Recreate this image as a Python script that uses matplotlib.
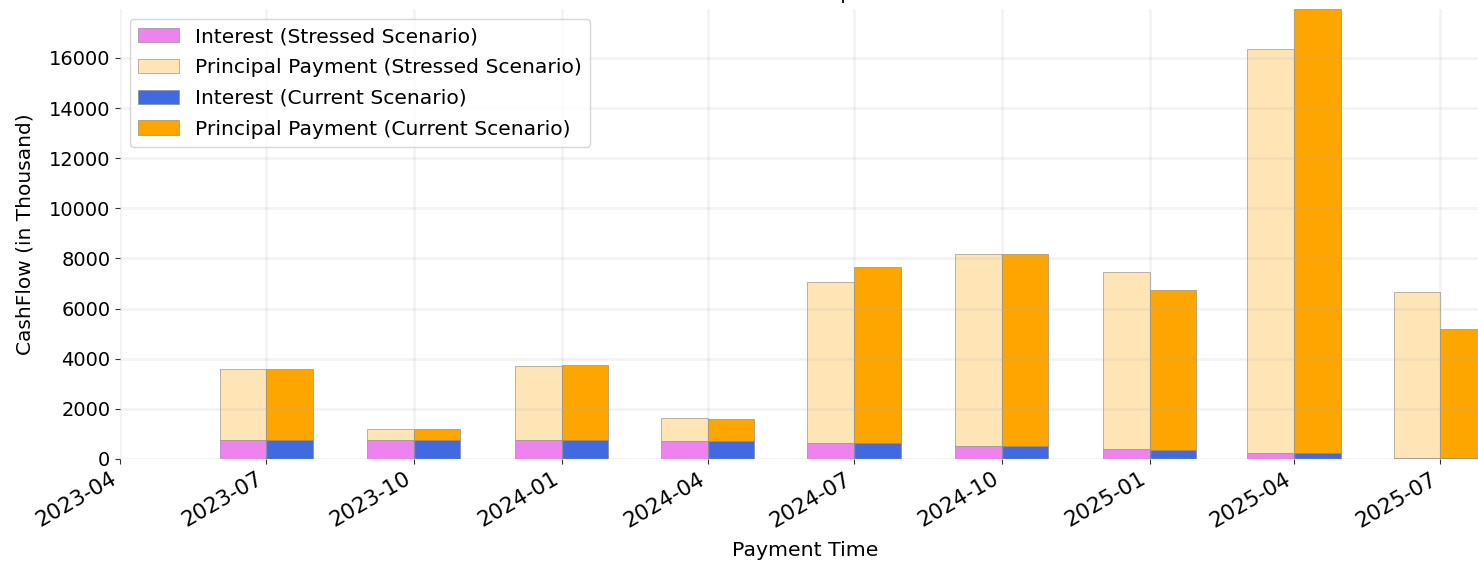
import matplotlib
matplotlib.use("Agg")
import matplotlib.pyplot as plt
import matplotlib.dates as mdates
import numpy as np
import pandas as pd

# ---- data (values in thousand) ----
pay_dates = ["2023-07-01", "2023-10-01", "2024-01-01", "2024-04-01", "2024-07-01",
             "2024-10-01", "2025-01-01", "2025-04-01", "2025-07-01"]
interest_stressed = [760, 760, 760, 705, 650, 530, 410, 235, 55]
principal_stressed = [2820, 430, 2940, 945, 6420, 7660, 7030, 16125, 6625]
interest_current = [760, 760, 760, 705, 650, 530, 345, 235, 50]
principal_current = [2820, 430, 2980, 885, 7010, 7650, 6385, 17715, 5130]

title_text = "CashFlow Comparison"
x_label = "Payment Time"
y_label = "CashFlow (in Thousand)"
legend_labels = ["Interest (Stressed Scenario)", "Principal Payment (Stressed Scenario)",
                 "Interest (Current Scenario)", "Principal Payment (Current Scenario)"]

dates = pd.to_datetime(pay_dates)
W, H = 1478, 561
fig = plt.figure(figsize=(W / 100, H / 100), dpi=100)
plt.rcParams["font.family"] = ["DejaVu Sans"]

left = 120 / W
bottom = 1 - 459 / H
top = 1 - 9 / H
ax = fig.add_axes([left, bottom, 1370 / W, top - bottom])

width = pd.Timedelta(days=29)
ec = dict(edgecolor="grey", linewidth=0.4)
ax.bar(dates, interest_stressed, width=-width, align="edge", color="violet",
       label=legend_labels[0], **ec)
ax.bar(dates, principal_stressed, width=-width, align="edge", bottom=interest_stressed,
       color="moccasin", label=legend_labels[1], **ec)
ax.bar(dates, interest_current, width=width, align="edge", color="royalblue",
       label=legend_labels[2], **ec)
ax.bar(dates, principal_current, width=width, align="edge", bottom=interest_current,
       color="orange", label=legend_labels[3], **ec)

ax.set_xlim(pd.Timestamp("2023-04-01"), pd.Timestamp("2025-08-01"))
ax.set_ylim(0, 17950)
ax.set_yticks(np.arange(0, 16001, 2000))
ax.xaxis.set_major_locator(mdates.MonthLocator(bymonth=[1, 4, 7, 10]))
ax.xaxis.set_major_formatter(mdates.DateFormatter("%Y-%m"))
ax.tick_params(axis="y", labelsize=14, color="#333333")
ax.tick_params(axis="x", labelsize=15.5, color="#333333")
for lbl in ax.get_xticklabels():
    lbl.set_rotation(30)
    lbl.set_ha("right")

for s in ax.spines.values():
    s.set_visible(False)
ax.grid(True, color="#b0b0b0", alpha=0.16, linewidth=1.8)

ax.set_xlabel(x_label, fontsize=14.7, labelpad=7.5)
ax.set_ylabel(y_label, fontsize=14.5, labelpad=10)
ax.legend(loc="upper left", fontsize=14.6, labelspacing=0.58)

ax.set_title(title_text, fontsize=14, pad=7.2)

fig.savefig("out.png", dpi=100)
